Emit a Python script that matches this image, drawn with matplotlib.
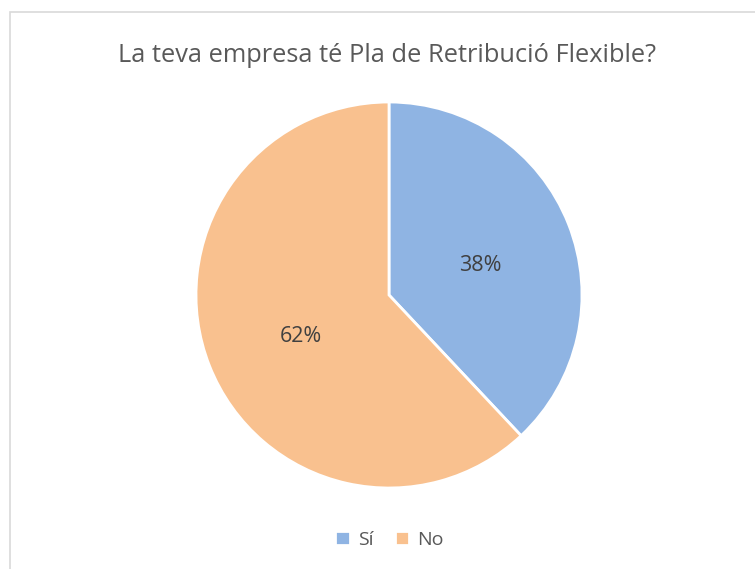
import matplotlib
matplotlib.use('Agg')
import matplotlib.pyplot as plt
from matplotlib.patches import Rectangle

# data
labels = ['Sí', 'No']
values = [38, 62]
colors = ['#8FB4E3', '#F9C18F']

plt.rcParams['font.family'] = ['Open Sans', 'DejaVu Sans']

fig = plt.figure(figsize=(7.55, 5.69), dpi=100)

# chart area frame (runs off the right/bottom edges)
fig.patches.append(Rectangle((10 / 755, -0.1), 1.0, (569 - 12) / 569 + 0.1,
                             transform=fig.transFigure, fill=False,
                             edgecolor='#D9D9D9', linewidth=1.2))

ax = fig.add_axes([196 / 755, 81 / 569, 386 / 755, 386 / 569])
wedges, texts, autotexts = ax.pie(
    values, colors=colors, startangle=90, counterclock=False,
    autopct='%1.0f%%', pctdistance=0.5,
    wedgeprops=dict(edgecolor='white', linewidth=2),
    textprops=dict(color='#404040', fontsize=15.5))
# nudge percent labels slightly down
for t in autotexts:
    x, y = t.get_position()
    t.set_position((x + 0.01, y - 0.03))
ax.set_xlim(-1, 1)
ax.set_ylim(-1, 1)
ax.set_aspect('equal')
ax.axis('off')

fig.text(0.513, 1 - 56 / 569, 'La teva empresa té Pla de Retribució Flexible?',
         ha='center', va='center', fontsize=18.3, color='#595959')

leg = fig.legend(wedges, labels, loc='center', bbox_to_anchor=(0.516, 1 - 540 / 569),
                 ncol=2, frameon=False, fontsize=14, handlelength=0.75,
                 handleheight=0.75, handletextpad=0.4, columnspacing=1.1)
for t in leg.get_texts():
    t.set_color('#595959')

fig.savefig('out.png', dpi=100)
